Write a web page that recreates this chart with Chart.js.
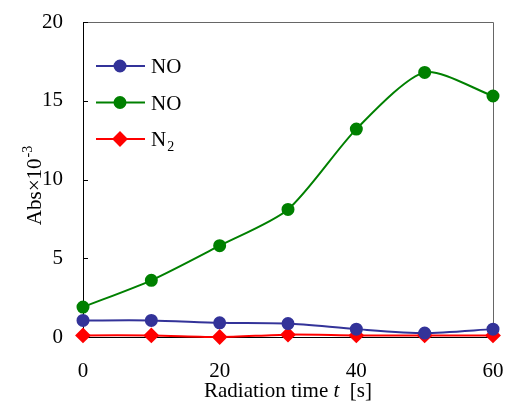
<!DOCTYPE html>
<html>
<head>
<meta charset="utf-8">
<script src="https://cdn.jsdelivr.net/npm/chart.js@4/dist/chart.umd.min.js"></script>
<style>
  html, body { margin: 0; padding: 0; background: #fff; }
  #wrap { width: 507px; height: 403px; }
</style>
</head>
<body>
<div id="wrap"><canvas id="chart" width="507" height="403"></canvas></div>
<script>
  // radiation time (s)
  const times = [0, 10, 20, 30, 40, 50, 60];
  const noBlue = [1.05, 1.05, 0.9, 0.85, 0.5, 0.25, 0.5];
  const noGreen = [1.9, 3.6, 5.8, 8.1, 13.2, 16.8, 15.3];
  const n2 = [0.1, 0.1, 0.0, 0.15, 0.1, 0.1, 0.1];
  const yTicks = [0, 5, 10, 15, 20];
  const xTicks = [0, 20, 40, 60];

  const FONT = '"Liberation Serif", "Times New Roman", serif';

  const series = [
    { name: 'NO', sub: '', data: noBlue, color: '#333399', style: 'circle', r: 5.5 },
    { name: 'NO', sub: '', data: noGreen, color: '#008000', style: 'circle', r: 5.5 },
    { name: 'N', sub: '2', data: n2, color: '#ff0000', style: 'rectRot', r: 6.5 },
  ];

  function toPoints(arr) {
    return times.map((t, i) => ({ x: t, y: arr[i] }));
  }

  const frame = {
    id: 'frame',
    beforeDatasetsDraw(chart) {
      const { ctx, chartArea: a, scales } = chart;
      ctx.save();
      ctx.strokeStyle = '#666';
      ctx.lineWidth = 1;
      ctx.beginPath();
      ctx.moveTo(Math.round(a.left) + 0.5, Math.round(a.top) + 0.5);
      ctx.lineTo(Math.round(a.right) + 0.5, Math.round(a.top) + 0.5);
      ctx.lineTo(Math.round(a.right) + 0.5, Math.round(a.bottom) + 0.5);
      ctx.stroke();
      // inward tick marks on y axis
      ctx.strokeStyle = '#000';
      ctx.beginPath();
      yTicks.forEach((v) => {
        const y = Math.round(scales.y.getPixelForValue(v)) + 0.5;
        ctx.moveTo(a.left, y);
        ctx.lineTo(a.left + 5, y);
      });
      ctx.stroke();
      ctx.restore();
    },
    afterDraw(chart) {
      const { ctx, chartArea: a } = chart;
      ctx.save();
      ctx.fillStyle = '#000';
      ctx.textBaseline = 'alphabetic';

      // x title with italic t
      const parts = [
        { t: 'Radiation time ', f: '21px ' + FONT },
        { t: 't', f: 'italic 21px ' + FONT },
        { t: '  [s]', f: '21px ' + FONT },
      ];
      let total = 0;
      parts.forEach((p) => { ctx.font = p.f; p.w = ctx.measureText(p.t).width; total += p.w; });
      let x = (a.left + a.right) / 2 - total / 2;
      parts.forEach((p) => { ctx.font = p.f; ctx.fillText(p.t, x, 397); x += p.w; });

      // y title, rotated, with superscript
      ctx.save();
      ctx.translate(41, 186);
      ctx.rotate(-Math.PI / 2);
      ctx.font = '21px ' + FONT;
      const main = 'Abs\u00d710';
      const wMain = ctx.measureText(main).width;
      ctx.font = '14px ' + FONT;
      const sup = '-3';
      const wSup = ctx.measureText(sup).width;
      const start = -(wMain + wSup) / 2;
      ctx.font = '21px ' + FONT;
      ctx.fillText(main, start, 0);
      ctx.font = '14px ' + FONT;
      ctx.fillText(sup, start + wMain + 1, -9);
      ctx.restore();

      // legend
      series.forEach((s, i) => {
        const y = 66 + i * 36.5;
        ctx.strokeStyle = s.color;
        ctx.lineWidth = 2;
        ctx.beginPath();
        ctx.moveTo(96, y);
        ctx.lineTo(145, y);
        ctx.stroke();
        ctx.fillStyle = s.color;
        Chart.helpers.drawPoint(ctx, { pointStyle: s.style, radius: s.r, rotation: 0, borderWidth: 1 }, 120, y);
        ctx.fillStyle = '#000';
        ctx.font = '21px ' + FONT;
        ctx.fillText(s.name, 151, y + 7);
        if (s.sub) {
          const w = ctx.measureText(s.name).width;
          ctx.font = '14px ' + FONT;
          ctx.fillText(s.sub, 151 + w + 1, y + 12);
        }
      });
      ctx.restore();
    },
  };

  new Chart(document.getElementById('chart'), {
    type: 'line',
    data: {
      datasets: series.map((s) => ({
        label: s.name + s.sub,
        data: toPoints(s.data),
        borderColor: s.color,
        backgroundColor: s.color,
        pointBackgroundColor: s.color,
        pointBorderColor: s.color,
        pointStyle: s.style,
        pointRadius: s.r,
        borderWidth: 2,
        tension: 0.25,
        clip: false,
      })),
    },
    options: {
      responsive: false,
      animation: false,
      events: [],
      layout: { padding: { top: 22, right: 14, left: 0, bottom: 0 } },
      plugins: { legend: { display: false }, tooltip: { enabled: false } },
      scales: {
        x: {
          type: 'linear',
          min: 0,
          max: 60,
          afterBuildTicks: (s) => { s.ticks = xTicks.map((v) => ({ value: v })); },
          afterFit: (s) => { s.height = 66; s.paddingLeft = 0; s.paddingRight = 0; },
          grid: { display: false, drawTicks: false },
          border: { display: true, color: '#000', width: 1 },
          ticks: { color: '#000', font: { family: FONT, size: 21 }, padding: 22, maxRotation: 0 },
        },
        y: {
          min: 0,
          max: 20,
          afterBuildTicks: (s) => { s.ticks = yTicks.map((v) => ({ value: v })); },
          afterFit: (s) => { s.width = 83; s.paddingTop = 0; s.paddingBottom = 0; },
          grid: { display: false, drawTicks: false },
          border: { display: true, color: '#000', width: 1 },
          ticks: { color: '#000', font: { family: FONT, size: 21 }, padding: 20 },
        },
      },
    },
    plugins: [frame],
  });
</script>
</body>
</html>
